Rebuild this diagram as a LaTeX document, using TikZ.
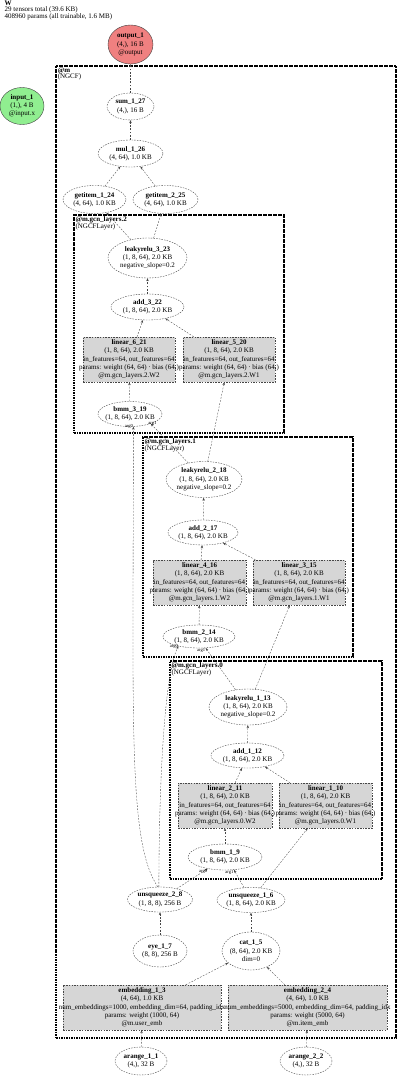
\documentclass[tikz,border=0pt]{standalone}
\usepackage{fontspec}
\setmainfont{Liberation Serif}
\usetikzlibrary{shapes.geometric, arrows.meta, positioning}
\definecolor{outred}{RGB}{240,128,128}
\definecolor{ingreen}{RGB}{144,238,144}
\definecolor{paramgray}{RGB}{214,214,214}
\definecolor{edgegray}{RGB}{70,70,70}
\newcommand{\nodefont}{\fontsize{7}{8.3}\selectfont}
\newcommand{\lblfont}{\fontsize{7}{6.4}\selectfont}
\newcommand{\argfont}{\fontsize{4.6}{5}\selectfont}
\newcommand{\opn}[1]{\makebox[0pt]{\textbf{#1}}}
\newcommand{\opl}[1]{\makebox[0pt]{#1}}

\begin{document}
\begin{tikzpicture}[x=1pt, y=-1pt,
    op/.style 2 args={ellipse, draw=edgegray, dash pattern=on 1.5pt off 1.2pt, line width=0.4pt, inner sep=0pt, minimum width=#1, minimum height=#2, align=center, font=\nodefont},
    parm/.style 2 args={rectangle, draw=edgegray, fill=paramgray, dash pattern=on 1.5pt off 1.2pt, line width=0.4pt, inner sep=0pt, minimum width=#1, minimum height=#2, align=center, font=\nodefont},
    io/.style={ellipse, draw=black!75, line width=0.4pt, inner sep=0pt, minimum width=45, minimum height=39, align=center, font=\nodefont},
    clust/.style 2 args={rectangle, draw=black, line width=2.2pt, dash pattern=on 1.6pt off 0.9pt, inner sep=0pt, minimum width=#1, minimum height=#2},
    clab/.style={anchor=north west, align=left, inner sep=0pt, font=\lblfont},
    arr/.style={-{Stealth[length=3pt, width=2.4pt]}, draw=edgegray, line width=0.35pt, dash pattern=on 1.8pt off 1.4pt},
    argl/.style={font=\argfont, inner sep=0.3pt},
]
\useasboundingbox (0,0) rectangle (400,1076);

% clusters
\node[clust={340}{972}, line width=2.8pt] (m) at (226,552) {};
\node[clust={210}{218}] (gcn_2) at (179,324) {};
\node[clust={210}{220}] (gcn_1) at (248,547) {};
\node[clust={212}{218}] (gcn_0) at (276,770) {};
\node[clab] (m_lab) at ([shift={(3,3)}]m.north west) {\textbf{@m}\\(NGCF)};
\node[clab] (gcn_2_lab) at ([shift={(2.5,2.5)}]gcn_2.north west) {\textbf{@m.gcn\_layers.2}\\(NGCFLayer)};
\node[clab] (gcn_1_lab) at ([shift={(2.5,2.5)}]gcn_1.north west) {\textbf{@m.gcn\_layers.1}\\(NGCFLayer)};
\node[clab] (gcn_0_lab) at ([shift={(2.5,2.5)}]gcn_0.north west) {\textbf{@m.gcn\_layers.0}\\(NGCFLayer)};

\node[clab] (header) at (4.5,0.5) {\textbf{W}\\29 tensors total (39.6 KB)\\408960 params (all trainable, 1.6 MB)};

% top
\node[io, fill=outred] (output_1) at (130.5,44.5) {\opn{output\_1}\\\opl{(4,), 16 B}\\\opl{@output}};
\node[io, fill=ingreen, minimum width=44, minimum height=37] (input_1) at (22,106) {\opn{input\_1}\\\opl{(1,), 4 B}\\\opl{@input.x}};
\node[op={47}{27}] (sum_1_27) at (130.5,106.5) {\opn{sum\_1\_27}\\\opl{(4,), 16 B}};
\node[op={65}{27}] (mul_1_26) at (130.5,153.5) {\opn{mul\_1\_26}\\\opl{(4, 64), 1.0 KB}};
\node[op={63}{28}] (getitem_1_24) at (94.5,199.5) {\opn{getitem\_1\_24}\\\opl{(4, 64), 1.0 KB}};
\node[op={65}{28}] (getitem_2_25) at (165.5,199.5) {\opn{getitem\_2\_25}\\\opl{(4, 64), 1.0 KB}};

% layer 2
\node[op={79}{40}] (leakyrelu_3_23) at (147.5,258) {\opn{leakyrelu\_3\_23}\\\opl{(1, 8, 64), 2.0 KB}\\\opl{negative\_slope=0.2}};
\node[op={73}{26}] (add_3_22) at (147.5,307) {\opn{add\_3\_22}\\\opl{(1, 8, 64), 2.0 KB}};
\node[parm={92}{45}] (linear_6_21) at (129,359.5) {\opn{linear\_6\_21}\\\opl{(1, 8, 64), 2.0 KB}\\\opl{in\_features=64, out\_features=64}\\\opl{params: weight (64, 64) · bias (64,)}\\\opl{@m.gcn\_layers.2.W2}};
\node[parm={92}{45}] (linear_5_20) at (229,359.5) {\opn{linear\_5\_20}\\\opl{(1, 8, 64), 2.0 KB}\\\opl{in\_features=64, out\_features=64}\\\opl{params: weight (64, 64) · bias (64,)}\\\opl{@m.gcn\_layers.2.W1}};
\node[op={64}{25}] (bmm_3_19) at (130,414) {\opn{bmm\_3\_19}\\\opl{(1, 8, 64), 2.0 KB}};

% layer 1
\node[op={76}{36}] (leakyrelu_2_18) at (204,479.5) {\opn{leakyrelu\_2\_18}\\\opl{(1, 8, 64), 2.0 KB}\\\opl{negative\_slope=0.2}};
\node[op={70}{25}] (add_2_17) at (203,532.5) {\opn{add\_2\_17}\\\opl{(1, 8, 64), 2.0 KB}};
\node[parm={93}{45}] (linear_4_16) at (199.5,582.5) {\opn{linear\_4\_16}\\\opl{(1, 8, 64), 2.0 KB}\\\opl{in\_features=64, out\_features=64}\\\opl{params: weight (64, 64) · bias (64,)}\\\opl{@m.gcn\_layers.1.W2}};
\node[parm={92}{45}] (linear_3_15) at (299,582.5) {\opn{linear\_3\_15}\\\opl{(1, 8, 64), 2.0 KB}\\\opl{in\_features=64, out\_features=64}\\\opl{params: weight (64, 64) · bias (64,)}\\\opl{@m.gcn\_layers.1.W1}};
\node[op={72}{23}] (bmm_2_14) at (199,636.5) {\opn{bmm\_2\_14}\\\opl{(1, 8, 64), 2.0 KB}};

% layer 0
\node[op={78}{36}] (leakyrelu_1_13) at (248,707) {\opn{leakyrelu\_1\_13}\\\opl{(1, 8, 64), 2.0 KB}\\\opl{negative\_slope=0.2}};
\node[op={73}{25}] (add_1_12) at (247.5,755.5) {\opn{add\_1\_12}\\\opl{(1, 8, 64), 2.0 KB}};
\node[parm={94}{45}] (linear_2_11) at (225,805.5) {\opn{linear\_2\_11}\\\opl{(1, 8, 64), 2.0 KB}\\\opl{in\_features=64, out\_features=64}\\\opl{params: weight (64, 64) · bias (64,)}\\\opl{@m.gcn\_layers.0.W2}};
\node[parm={93}{45}] (linear_1_10) at (325.5,805.5) {\opn{linear\_1\_10}\\\opl{(1, 8, 64), 2.0 KB}\\\opl{in\_features=64, out\_features=64}\\\opl{params: weight (64, 64) · bias (64,)}\\\opl{@m.gcn\_layers.0.W1}};
\node[op={74}{26}] (bmm_1_9) at (225,857) {\opn{bmm\_1\_9}\\\opl{(1, 8, 64), 2.0 KB}};

% inputs
\node[op={65}{25}] (unsqueeze_2_8) at (160,899.5) {\opn{unsqueeze\_2\_8}\\\opl{(1, 8, 8), 256 B}};
\node[op={68}{25}] (unsqueeze_1_6) at (251,900) {\opn{unsqueeze\_1\_6}\\\opl{(1, 8, 64), 2.0 KB}};
\node[op={54}{32}] (eye_1_7) at (160,951) {\opn{eye\_1\_7}\\\opl{(8, 8), 256 B}};
\node[op={58}{38}] (cat_1_5) at (251,951) {\opn{cat\_1\_5}\\\opl{(8, 64), 2.0 KB}\\\opl{dim=0}};
\node[parm={158}{45}] (embedding_1_3) at (142,1007.5) {\opn{embedding\_1\_3}\\\opl{(4, 64), 1.0 KB}\\\opl{num\_embeddings=1000, embedding\_dim=64, padding\_idx}\\\opl{params: weight (1000, 64)}\\\opl{@m.user\_emb}};
\node[parm={159}{45}] (embedding_2_4) at (307.5,1007.5) {\opn{embedding\_2\_4}\\\opl{(4, 64), 1.0 KB}\\\opl{num\_embeddings=5000, embedding\_dim=64, padding\_idx}\\\opl{params: weight (5000, 64)}\\\opl{@m.item\_emb}};
\node[op={52}{28}] (arange_1_1) at (141,1061) {\opn{arange\_1\_1}\\\opl{(4,), 32 B}};
\node[op={52}{28}] (arange_2_2) at (306,1061) {\opn{arange\_2\_2}\\\opl{(4,), 32 B}};

% edges
\draw[arr] (sum_1_27) -- (output_1);
\draw[arr] (mul_1_26) -- (sum_1_27);
\draw[arr] (getitem_1_24) -- (mul_1_26);
\draw[arr] (getitem_2_25) -- (mul_1_26);
\draw[arr] (leakyrelu_3_23) -- (getitem_1_24);
\draw[arr] (leakyrelu_3_23) -- (getitem_2_25);
\draw[arr] (add_3_22) -- (leakyrelu_3_23);
\draw[arr] (linear_6_21) -- (add_3_22);
\draw[arr] (linear_5_20) -- (add_3_22);
\draw[arr] (bmm_3_19) -- (linear_6_21);
\draw[arr] (unsqueeze_2_8.100) .. controls +(-30,-45) and +(0,300) .. (bmm_3_19.-75) node[argl, pos=1, anchor=east] {arg0};
\draw[arr] (leakyrelu_2_18) -- (bmm_3_19.-25) node[argl, pos=1, anchor=west, xshift=-3pt] {arg1};
\draw[arr] (leakyrelu_2_18) -- (linear_5_20);
\draw[arr] (add_2_17) -- (leakyrelu_2_18);
\draw[arr] (linear_4_16) -- (add_2_17);
\draw[arr] (linear_3_15) -- (add_2_17);
\draw[arr] (bmm_2_14) -- (linear_4_16);
\draw[arr] (unsqueeze_2_8.95) .. controls +(0,-90) and +(-15,30) .. (bmm_2_14.-155) node[argl, pos=1, anchor=east] {arg0};
\draw[arr] (leakyrelu_1_13) -- (bmm_2_14.-60) node[argl, pos=1, anchor=north east] {arg1};
\draw[arr] (leakyrelu_1_13) -- (linear_3_15);
\draw[arr] (add_1_12) -- (leakyrelu_1_13);
\draw[arr] (linear_2_11) -- (add_1_12);
\draw[arr] (linear_1_10) -- (add_1_12);
\draw[arr] (bmm_1_9) -- (linear_2_11);
\draw[arr] (unsqueeze_2_8) -- (bmm_1_9.-146) node[argl, pos=1, anchor=north east] {arg0};
\draw[arr] (unsqueeze_1_6) -- (bmm_1_9.-55) node[argl, pos=1, anchor=north east] {arg1};
\draw[arr] (unsqueeze_1_6) -- (linear_1_10);
\draw[arr] (cat_1_5) -- (unsqueeze_1_6);
\draw[arr] (eye_1_7) -- (unsqueeze_2_8);
\draw[arr] (embedding_1_3) -- (cat_1_5);
\draw[arr] (embedding_2_4) -- (cat_1_5);
\draw[arr] (arange_1_1) -- (embedding_1_3);
\draw[arr] (arange_2_2) -- (embedding_2_4);
\end{tikzpicture}
\end{document}
